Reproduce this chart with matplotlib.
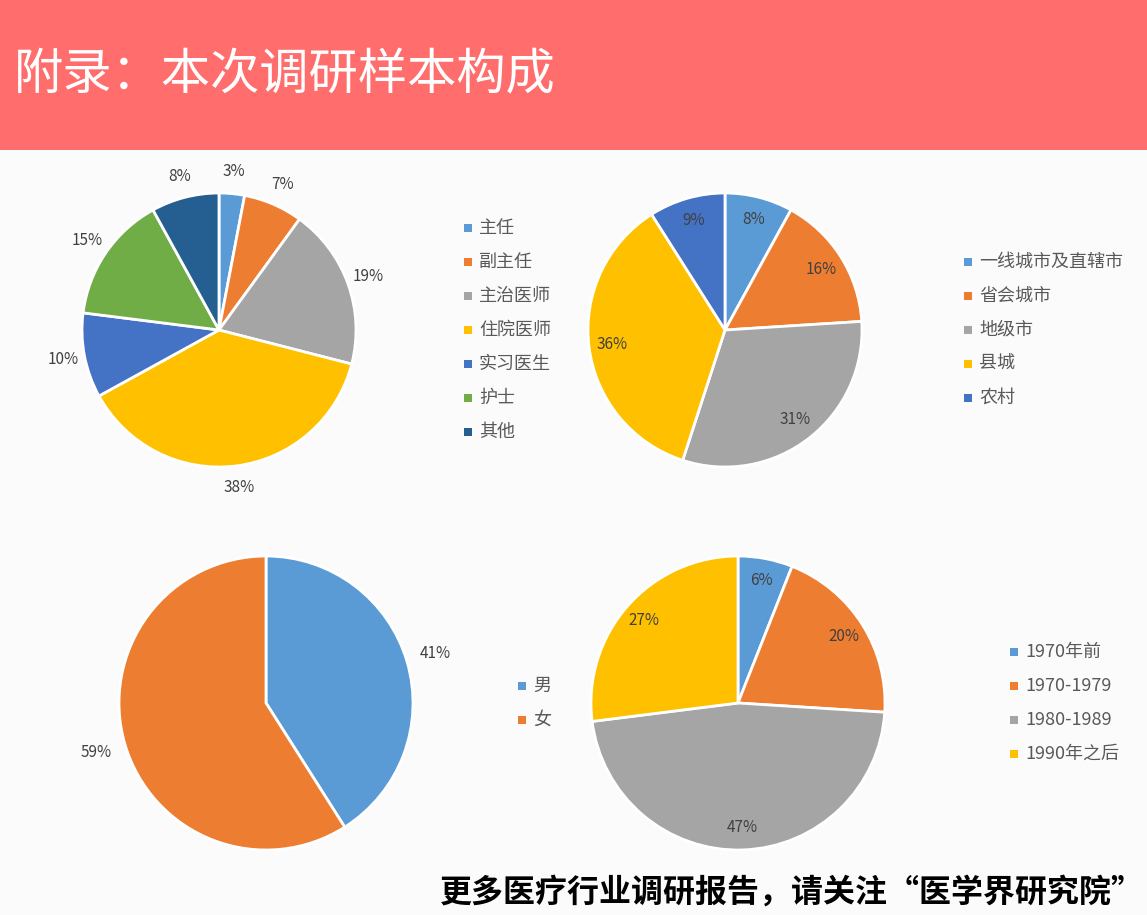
import matplotlib.pyplot as plt
from matplotlib.patches import Rectangle

plt.rcParams['font.family'] = ['Noto Sans CJK SC', 'DejaVu Sans']

# données
job_labels = ['主任', '副主任', '主治医师', '住院医师', '实习医生', '护士', '其他']
job_values = [3, 7, 19, 38, 10, 15, 8]

city_labels = ['一线城市及直辖市', '省会城市', '地级市', '县城', '农村']
city_values = [8, 16, 31, 36, 9]

sex_labels = ['男', '女']
sex_values = [41, 59]

age_labels = ['1970年前', '1970-1979', '1980-1989', '1990年之后']
age_values = [6, 20, 47, 27]

colors = ['#5B9BD5', '#ED7D31', '#A5A5A5', '#FFC000', '#4472C4', '#70AD47', '#255E91']

W, H = 1147, 915
fig = plt.figure(figsize=(W / 100, H / 100), dpi=100)
fig.patch.set_facecolor('#FBFBFB')

# bandeau rouge du haut
fig.patches.append(Rectangle((0, 1 - 150 / H), 1, 150 / H, transform=fig.transFigure,
                             facecolor='#FF6D6D', edgecolor='none', zorder=0))
fig.text(14 / W, 1 - 75 / H, '附录：本次调研样本构成', color='white', fontsize=35.5,
         ha='left', va='center')


def pie_ax(cx, cy, r, values, cols, pctdist):
    ax = fig.add_axes([(cx - r) / W, 1 - (cy + r) / H, 2 * r / W, 2 * r / H])
    ax.pie(values, colors=cols, startangle=90, counterclock=False, radius=1,
           autopct='%.0f%%', pctdistance=pctdist,
           wedgeprops=dict(edgecolor='white', linewidth=2),
           textprops=dict(color='#404040', fontsize=11))
    ax.set_xlim(-1, 1)
    ax.set_ylim(-1, 1)
    ax.axis('off')
    return ax


def legende(x, y0, labels, cols, dy=34):
    for i, lab in enumerate(labels):
        y = y0 + i * dy
        fig.patches.append(Rectangle(((x - 4) / W, 1 - (y + 4) / H), 8 / W, 8 / H,
                                     transform=fig.transFigure, facecolor=cols[i],
                                     edgecolor='none'))
        fig.text((x + 11) / W, 1 - y / H, lab, color='#595959', fontsize=13,
                 ha='left', va='center')


#graph 1:
pie_ax(219, 330, 137, job_values, colors, 1.16)
legende(468, 228, job_labels, colors)

#graph 2:
pie_ax(725, 330, 137, city_values, colors, 0.83)
legende(968, 262, city_labels, colors)

#graph 3:
pie_ax(266, 703, 147, sex_values, colors, 1.2)
legende(522, 686, sex_labels, colors)

#graph 4:
pie_ax(738, 703, 147, age_values, colors, 0.85)
legende(1014, 652, age_labels, colors)

# texte du bas
fig.text(440 / W, 1 - 893 / H, '更多医疗行业调研报告，请关注“医学界研究院”', color='black',
         fontsize=23, fontweight='bold', ha='left', va='center')

fig.savefig('out.png', dpi=100, facecolor=fig.get_facecolor())
